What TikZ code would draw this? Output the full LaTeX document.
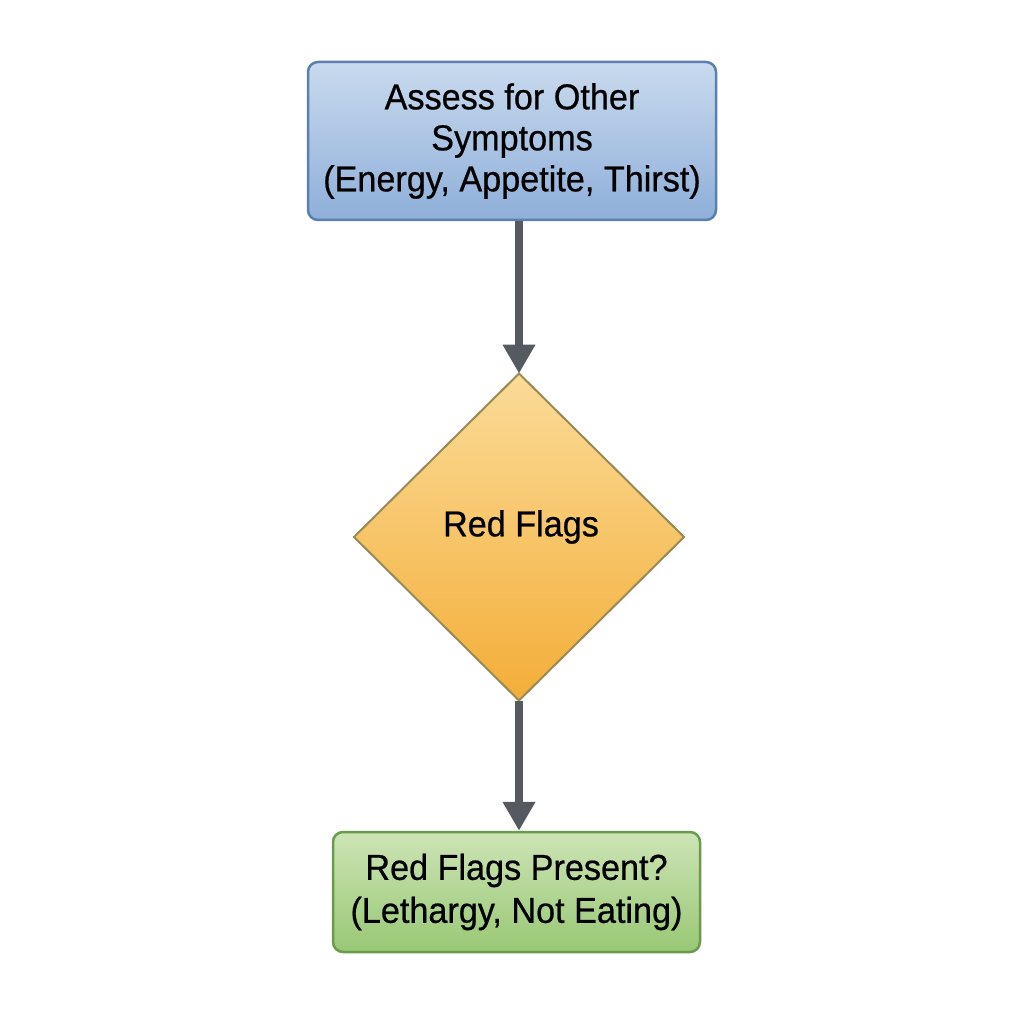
\documentclass[tikz,border=0pt]{standalone}
\usepackage{fontspec}
\setmainfont[FakeStretch=0.95,FakeBold=0.6]{Liberation Sans}
\usetikzlibrary{shapes.geometric,arrows.meta}
\definecolor{bluetop}{HTML}{C9DAEE}
\definecolor{bluebot}{HTML}{8EAFD9}
\definecolor{blueline}{HTML}{5B7FAE}
\definecolor{ortop}{HTML}{FBDB98}
\definecolor{orbot}{HTML}{F3AE38}
\definecolor{orline}{HTML}{978A55}
\definecolor{grtop}{HTML}{CDE4B6}
\definecolor{grbot}{HTML}{98C874}
\definecolor{grline}{HTML}{6A9A4C}
\definecolor{arrowc}{HTML}{555A61}
\tikzset{
  x=1pt, y=-1pt,
  txt/.style={font=\fontsize{36}{41}\selectfont, text=black, align=center},
  bluebox/.style={txt, draw=blueline, line width=2.5pt, rounded corners=10pt,
    top color=bluetop, bottom color=bluebot, minimum width=408pt, minimum height=158pt, inner sep=0pt},
  greenbox/.style={txt, font=\fontsize{36}{43}\selectfont, draw=grline, line width=2.5pt, rounded corners=10pt,
    top color=grtop, bottom color=grbot, minimum width=367pt, minimum height=120pt, inner sep=0pt},
  decision/.style={txt, diamond, draw=orline, line width=2pt, aspect=1,
    top color=ortop, bottom color=orbot, minimum width=330pt, minimum height=327pt, inner sep=0pt, outer sep=0pt},
  flow/.style={draw=arrowc, line width=8pt, -{Triangle[width=31pt,length=29pt]}},
}
\begin{document}
\begin{tikzpicture}
\useasboundingbox (0,0) rectangle (1024,1024);
\node[bluebox] (assess) at (512,141) {Assess for Other\\Symptoms\\(Energy, Appetite, Thirst)};
\node[decision] (flags) at (519,537) {};
\node[txt] (flagtxt) at (521,527) {Red Flags};
\node[greenbox] (present) at (516.5,892) {Red Flags Present?\\(Lethargy, Not Eating)};
\draw[flow] (assess.south -| flags.north) -- (flags.north);
\draw[flow] (flags.south) -- (flags.south |- present.north);
\end{tikzpicture}
\end{document}
